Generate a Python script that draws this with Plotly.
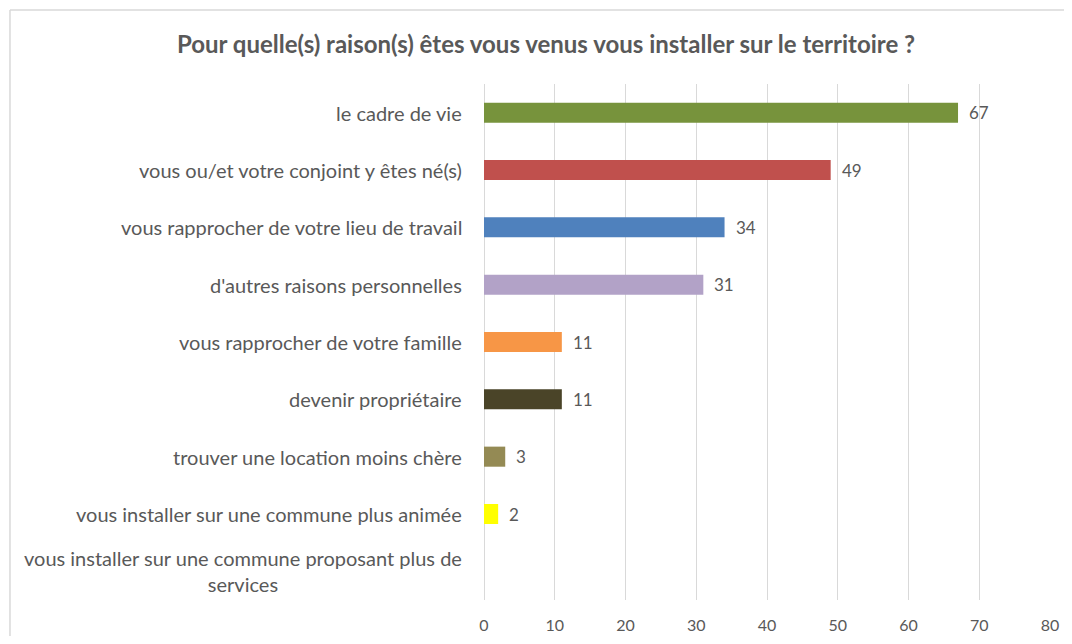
import plotly.graph_objects as go

categories = [
    "le cadre de vie",
    "vous ou/et votre conjoint y êtes né(s)",
    "vous rapprocher de votre lieu de travail",
    "d'autres raisons personnelles",
    "vous rapprocher de votre famille",
    "devenir propriétaire",
    "trouver une location moins chère",
    "vous installer sur une commune plus animée",
    "vous installer sur une commune proposant plus de<br>services",
]
values = [67, 49, 34, 31, 11, 11, 3, 2, 0]
bar_colors = ["#77933C", "#C0504D", "#4F81BD", "#B2A2C7", "#F79646",
              "#4A4428", "#948A54", "#FFFF00", "#FFFFFF"]
x_ticks = [0, 10, 20, 30, 40, 50, 60, 70, 80]
title = "Pour quelle(s) raison(s) êtes vous venus vous installer sur le territoire ?"

FONT = "Lato"
GREY = "#595959"

fig = go.Figure()
fig.add_trace(go.Bar(
    x=values, y=categories, orientation="h",
    marker=dict(color=bar_colors, line=dict(width=0)),
    showlegend=False, hoverinfo="skip",
))

for c, v in zip(categories, values):
    fig.add_annotation(
        x=-20 / 566, xref="paper", y=c, yref="y",
        text=c, showarrow=False, xanchor="right", align="center",
        font=dict(family=FONT, size=20, color=GREY),
    )
    if v > 0:
        fig.add_annotation(
            x=v, xref="x", y=c, yref="y", text=str(v), showarrow=False,
            xanchor="left", xshift=9,
            font=dict(family=FONT, size=17, color=GREY),
        )

# outer chart border (top and left edges visible in the reference)
fig.add_shape(type="line", xref="paper", yref="paper",
              x0=-0.8375, x1=1.4, y0=1.1434, y1=1.1434,
              line=dict(color="#D9D9D9", width=1.5), layer="below")
fig.add_shape(type="line", xref="paper", yref="paper",
              x0=-0.8375, x1=-0.8375, y0=-0.3, y1=1.1434,
              line=dict(color="#D9D9D9", width=1.5), layer="below")

fig.update_layout(
    width=1056, height=628,
    margin=dict(l=476, r=14, t=76, b=36, autoexpand=False),
    paper_bgcolor="white", plot_bgcolor="white",
    bargap=0.65,
    title=dict(text="<b>" + title + "</b>", x=538 / 1056,
               xanchor="center", xref="container", y=1 - 37 / 628, yanchor="middle",
               font=dict(family=FONT, size=24, color=GREY)),
    xaxis=dict(range=[0, 80], tickvals=x_ticks, showgrid=True, automargin=False,
               gridcolor="#D9D9D9", gridwidth=1, zeroline=True,
               zerolinecolor="#D9D9D9", zerolinewidth=1, showline=False,
               ticks="", tickfont=dict(family=FONT, size=16, color=GREY),
               ticklabelstandoff=14),
    yaxis=dict(autorange="reversed", showticklabels=False, showgrid=False,
               automargin=False, zeroline=False, showline=False, ticks=""),
)

fig.write_html("out.html")
